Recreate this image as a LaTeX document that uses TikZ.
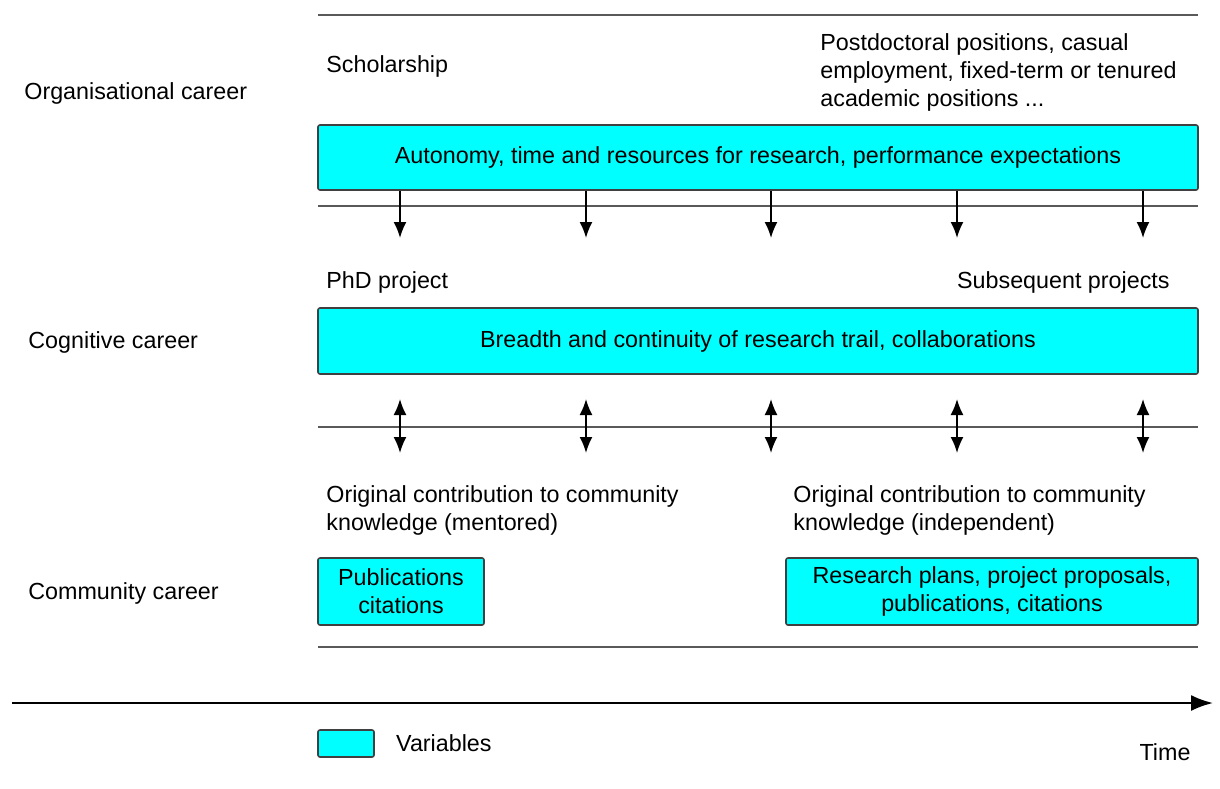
\documentclass[tikz,border=0pt]{standalone}
\usepackage{fontspec}
\setmainfont{Liberation Sans}
\usetikzlibrary{positioning,arrows.meta}
\definecolor{aqua}{RGB}{0,255,255}

\begin{document}
\begin{tikzpicture}[
        x=0.5pt, y=-0.5pt,
        font=\fontsize{11.65}{14}\selectfont,
        varbox/.style={draw=black!75, fill=aqua, rounded corners=1pt, line width=0.8pt, align=center, inner sep=0pt},
        lefttext/.style={anchor=west, align=left, inner sep=0pt},
        hrule/.style={draw=black!65, line width=1pt},
        connection/.style={-{Latex[length=8pt,width=6.5pt]}, line width=0.9pt},
        twoway/.style={{Latex[length=8pt,width=6.5pt]}-{Latex[length=8pt,width=6.5pt]}, line width=0.9pt}
    ]

    \useasboundingbox (0,0) rectangle (1220,788);

    % Rules
    \foreach \r/\y in {r1/15, r2/206, r3/427, r4/647} {
        \coordinate (\r a) at (318, \y);
        \coordinate (\r b) at (1198, \y);
        \draw[hrule] (\r a) -- (\r b);
    }

    % Organisational career
    \node[lefttext] (org) at (24, 93) {Organisational career};
    \node[lefttext] (schol) at (326, 66) {Scholarship};
    \node[lefttext] (postdoc) at (820, 72) {Postdoctoral positions, casual\\employment, fixed-term or tenured\\academic positions ...};
    \node[varbox, minimum width=440pt, minimum height=32.5pt] (auton) at (758, 157.5)
        {Autonomy, time and resources for research, performance expectations};

    % Cognitive career
    \node[lefttext] (cog) at (28, 342) {Cognitive career};
    \node[lefttext] (phd) at (326, 282) {PhD project};
    \node[anchor=east, inner sep=0pt] (subs) at (1170, 282) {Subsequent projects};
    \node[varbox, minimum width=440pt, minimum height=33pt] (breadth) at (758, 341)
        {Breadth and continuity of research trail, collaborations};

    % Community career
    \node[lefttext] (com) at (28, 593) {Community career};
    \node[lefttext] (ment) at (326, 510) {Original contribution to community\\knowledge (mentored)};
    \node[lefttext] (indep) at (793, 510) {Original contribution to community\\knowledge (independent)};
    \node[varbox, minimum width=83pt, minimum height=33.5pt] (pubs) at (401, 591.5)
        {Publications\\citations};
    \node[varbox, minimum width=206pt, minimum height=33.5pt] (plans) at (992, 591.5)
        {Research plans, project proposals,\\publications, citations};

    % Connections
    \foreach \i/\x in {1/400, 2/586, 3/771, 4/957, 5/1143} {
        \coordinate (d\i) at (\x, 238);
        \draw[connection] (auton.south -| d\i) -- (d\i);
        \coordinate (u\i) at (\x, 399);
        \coordinate (l\i) at (\x, 453);
        \draw[twoway] (u\i) -- (l\i);
    }

    % Time axis and legend
    \coordinate (t0) at (12, 703);
    \coordinate (t1) at (1213, 703);
    \draw[-{Latex[length=11pt,width=8pt]}, line width=1.1pt] (t0) -- (t1);
    \node[varbox, minimum width=28pt, minimum height=13.5pt] (key) at (346, 743.5) {};
    \node[lefttext, right=10.5pt of key] (var) {Variables};
    \node[inner sep=0pt] (time) at (1165, 752) {Time};

\end{tikzpicture}
\end{document}
